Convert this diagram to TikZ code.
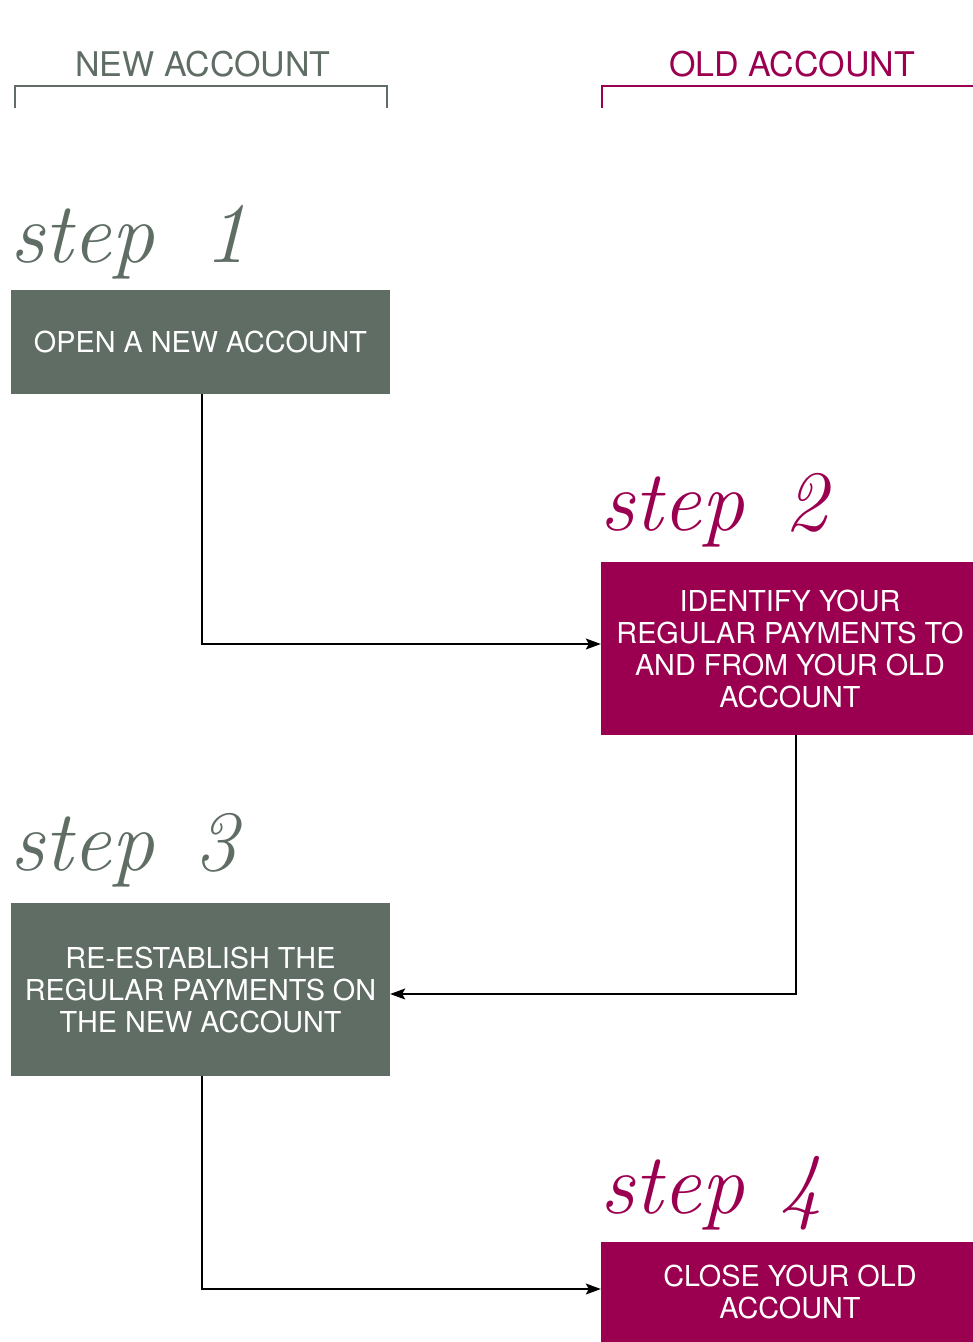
\documentclass[tikz,border=0pt]{standalone}
\usepackage{fontspec}
\newfontfamily\helv{TeX Gyre Heros}
\usetikzlibrary{arrows.meta}
\definecolor{newgreen}{HTML}{5F6D64}
\definecolor{oldred}{HTML}{9B0050}
\tikzset{
  stepbox/.style={rectangle, inner sep=0pt, text=white, align=center,
    font=\helv\fontsize{28.8}{32}\selectfont},
  greenbox/.style={stepbox, fill=newgreen, minimum width=379pt},
  redbox/.style={stepbox, fill=oldred, minimum width=372pt},
  hdr/.style={font=\helv\fontsize{34}{34}\selectfont, inner sep=0pt, anchor=base},
  steplabel/.style={font=\fontsize{86}{86}\selectfont\itshape, inner sep=0pt, anchor=base west},
  arr/.style={line width=1.1pt, -{Stealth[length=15pt,width=11pt,inset=3pt]}},
  brk/.style={line width=2.4pt}
}
\begin{document}
\begin{tikzpicture}[x=1pt,y=-1pt]
\useasboundingbox (0,0) rectangle (973,1342);
% headers
\node[hdr, text=newgreen] (hnew) at (203,76) {NEW ACCOUNT};
\node[hdr, text=oldred] (hold) at (792,76) {OLD ACCOUNT};
\coordinate (n1) at (15,108);
\coordinate (n2) at (15,86);
\coordinate (n3) at (387,86);
\coordinate (n4) at (387,108);
\coordinate (o1) at (602,108);
\coordinate (o2) at (602,86);
\coordinate (o3) at (973,86);
\draw[brk, newgreen] (n1) -- (n2) -- (n3) -- (n4);
\draw[brk, oldred] (o1) -- (o2) -- (o3);
% step labels
\node[steplabel, text=newgreen] (s1) at (10,262) {step\hspace{50pt}1};
\node[steplabel, text=oldred] (s2) at (600,530) {step\hspace{40pt}2};
\node[steplabel, text=newgreen] (s3) at (10,870) {step\hspace{40pt}3};
\node[steplabel, text=oldred] (s4) at (600,1213) {step\hspace{35pt}4};
% boxes
\node[greenbox, minimum height=104pt] (b1) at (200.5,342) {OPEN A NEW ACCOUNT};
\node[redbox, minimum height=173pt] (b2) at (787,648.5) {\hspace*{6pt}IDENTIFY YOUR\\\hspace*{6pt}REGULAR PAYMENTS TO\\\hspace*{6pt}AND FROM YOUR OLD\\\hspace*{6pt}ACCOUNT};
\node[greenbox, minimum height=173pt] (b3) at (200.5,989.5) {RE-ESTABLISH THE\\REGULAR PAYMENTS ON\\THE NEW ACCOUNT};
\node[redbox, minimum height=100pt] (b4) at (787,1292) {\hspace*{6pt}CLOSE YOUR OLD\\\hspace*{6pt}ACCOUNT};
% connectors
\draw[arr] ([xshift=1.5pt]b1.south) |- ([yshift=4.5pt]b2.west);
\draw[arr] ([xshift=9pt]b2.south) |- ([yshift=-4.5pt]b3.east);
\draw[arr] ([xshift=1.5pt]b3.south) |- ([yshift=3pt]b4.west);
\end{tikzpicture}
\end{document}
